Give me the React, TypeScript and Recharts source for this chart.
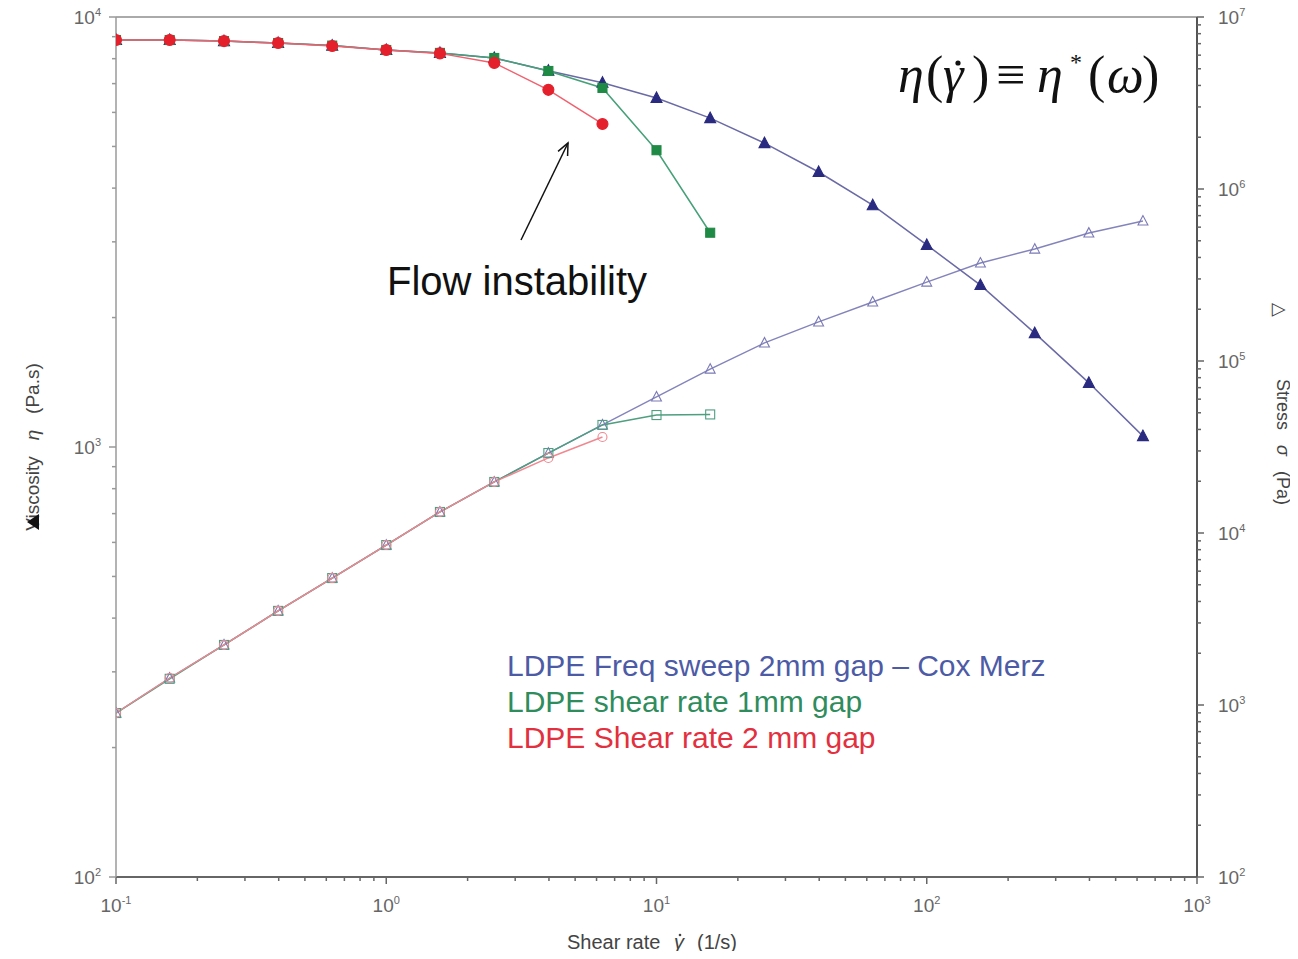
import { LineChart, Line, XAxis, YAxis, ReferenceLine } from 'recharts'

// shear rate (1/s), shared by all series
const shearRate = [0.1, 0.158, 0.251, 0.398, 0.631, 1, 1.58, 2.51, 3.98, 6.31, 10, 15.8, 25.1, 39.8, 63.1, 100, 158, 251, 398, 631]

// viscosity eta (Pa.s), left axis
const freqSweepVisc = [8840, 8840, 8790, 8700, 8580, 8380, 8250, 8030, 7500, 7030, 6480, 5820, 5090, 4360, 3650, 2950, 2380, 1840, 1410, 1060]
const gap1Visc = [8840, 8840, 8790, 8700, 8580, 8380, 8250, 8030, 7490, 6840, 4900, 3150]
const gap2Visc = [8840, 8840, 8790, 8700, 8560, 8380, 8230, 7820, 6770, 5640]

// stress sigma (Pa), right axis
const freqSweepStress = [898, 1435, 2234, 3524, 5470, 8510, 13250, 19800, 29170, 42480, 61800, 89800, 127400, 168700, 220300, 287700, 371500, 447700, 554700, 651700]
const gap1Stress = [898, 1420, 2234, 3524, 5470, 8510, 13250, 19800, 29170, 42480, 48500, 48900]
const gap2Stress = [898, 1435, 2234, 3524, 5470, 8510, 13250, 19800, 27300, 36150]

const legendLabels = ['LDPE Freq sweep 2mm gap \u2013 Cox Merz', 'LDPE shear rate 1mm gap', 'LDPE Shear rate 2 mm gap']
const legendColors = ['#4d5ba6', '#2f8c5c', '#e3303e']

// log ticks: decades plus 2..9 minors
function logTicks(lo: number, hi: number) {
  const out: number[] = []
  for (let e = lo; e <= hi; e++) {
    out.push(Math.pow(10, e))
    if (e < hi) for (let m = 2; m <= 9; m++) out.push(m * Math.pow(10, e))
  }
  return out
}
const xTicks = logTicks(-1, 3)
const leftTicks = logTicks(2, 4)
const rightTicks = logTicks(2, 7)

const toPoints = (ys: number[]) => ys.map((y, i) => ({ x: shearRate[i], y }))

const FONT = '"Liberation Sans", Arial, sans-serif'
const SERIF = '"Liberation Serif", "Times New Roman", serif'

function Pow({ x, y, exp, anchor }: { x: number; y: number; exp: number; anchor: string }) {
  return (
    <text x={x} y={y} textAnchor={anchor} fontFamily={FONT} fontSize={19} fill="#666">
      10<tspan fontSize={11} dy={-8}>{exp}</tspan>
    </text>
  )
}

function LogTick(props: any) {
  const { x, y, payload, side } = props
  const v = payload.value
  const lg = Math.log10(v)
  const exp = Math.round(lg)
  const major = Math.abs(lg - exp) < 1e-6
  const len = major ? 7 : 4
  if (side === 'bottom') {
    return (
      <g>
        <line x1={x} x2={x} y1={y} y2={y + len} stroke="#666" strokeWidth={1.5} />
        {major && <Pow x={x} y={y + 35} exp={exp} anchor="middle" />}
      </g>
    )
  }
  if (side === 'left') {
    return (
      <g>
        <line x1={x - len} x2={x} y1={y} y2={y} stroke="#999" strokeWidth={1.5} />
        {major && <Pow x={x - 15} y={y + 7} exp={exp} anchor="end" />}
      </g>
    )
  }
  return (
    <g>
      <line x1={x} x2={x + len} y1={y} y2={y} stroke="#666" strokeWidth={1.5} />
      {major && <Pow x={x + 21} y={y + 7} exp={exp} anchor="start" />}
    </g>
  )
}

function triangleDot(fill: string, stroke: string, s: number) {
  return (p: any) => {
    const { cx, cy, index } = p
    if (cx == null || cy == null) return <g key={index} />
    const pts = `${cx},${cy - s * 0.6} ${cx - s * 0.55},${cy + s * 0.45} ${cx + s * 0.55},${cy + s * 0.45}`
    return <polygon key={index} points={pts} fill={fill} stroke={stroke} strokeWidth={1.1} />
  }
}

function squareDot(fill: string, stroke: string, s: number) {
  return (p: any) => {
    const { cx, cy, index } = p
    if (cx == null || cy == null) return <g key={index} />
    return <rect key={index} x={cx - s / 2} y={cy - s / 2} width={s} height={s} fill={fill} stroke={stroke} strokeWidth={1.1} />
  }
}

function circleDot(fill: string, stroke: string, r: number) {
  return (p: any) => {
    const { cx, cy, index } = p
    if (cx == null || cy == null) return <g key={index} />
    return <circle key={index} cx={cx} cy={cy} r={r} fill={fill} stroke={stroke} strokeWidth={1.1} />
  }
}

// annotations, in page pixels (wrapper is pulled to the page corner)
function Overlay() {
  const tail = { x: 521, y: 240 }
  const tip = { x: 568, y: 143 }
  const ang = Math.atan2(tip.y - tail.y, tip.x - tail.x)
  const head = (d: number) => ({ x: tip.x - 13 * Math.cos(ang + d), y: tip.y - 13 * Math.sin(ang + d) })
  const h1 = head(0.42)
  const h2 = head(-0.42)
  const pre = { whiteSpace: 'pre' } as const
  const fy = 92
  return (
    <svg width={1298} height={959} style={{ position: 'absolute', left: 0, top: 0, pointerEvents: 'none' }}>
      {/* eta(gamma-dot) = eta*(omega) */}
      <g fontFamily={SERIF} fontSize={52} fill="#111">
        <text x={898} y={fy} fontStyle="italic">η</text>
        <text x={926} y={fy}>(</text>
        <text x={943} y={fy} fontStyle="italic">γ</text>
        <text x={972} y={fy}>)</text>
        <text x={996} y={fy}>≡</text>
        <text x={1037} y={fy} fontStyle="italic">η</text>
        <text x={1070} y={70} fontSize={24}>*</text>
        <text x={1088} y={fy}>(</text>
        <text x={1107} y={fy} fontStyle="italic">ω</text>
        <text x={1142} y={fy}>)</text>
      </g>
      <circle cx={958} cy={63} r={2.6} fill="#111" />

      <text x={387} y={295} fontFamily={FONT} fontSize={40} fill="#111">Flow instability</text>
      <line x1={tail.x} y1={tail.y} x2={tip.x} y2={tip.y} stroke="#111" strokeWidth={1.5} />
      <polyline points={`${h1.x},${h1.y} ${tip.x},${tip.y} ${h2.x},${h2.y}`} fill="none" stroke="#111" strokeWidth={1.5} />

      {legendLabels.map((t, i) => (
        <text key={t} x={507} y={676 + i * 36} fontFamily={FONT} fontSize={30} fill={legendColors[i]}>{t}</text>
      ))}

      <g fontFamily={FONT} fontSize={20} fill="#444">
        <text x={567} y={949}>Shear rate</text>
        <text x={674} y={949} fontStyle="italic">γ</text>
        <text x={697} y={949}>(1/s)</text>
      </g>
      <circle cx={680} cy={935} r={1.3} fill="#444" />

      <g transform="translate(39,447) rotate(-90)">
        <text x={0} y={0} textAnchor="middle" fontFamily={FONT} fontSize={19} fill="#444" style={pre}>
          {'Viscosity   '}<tspan fontStyle="italic">η</tspan>{'   (Pa.s)'}
        </text>
      </g>
      <polygon points="27,522 39,514 39,530" fill="#111" />

      <g transform="translate(1277,442) rotate(90)">
        <text x={0} y={0} textAnchor="middle" fontFamily={FONT} fontSize={18} fill="#444" style={pre}>
          {'Stress   '}<tspan fontStyle="italic">σ</tspan>{'   (Pa)'}
        </text>
      </g>
      <g transform="translate(1274,310) rotate(90)">
        <text x={0} y={0} textAnchor="middle" fontFamily={FONT} fontSize={18} fill="#444">△</text>
      </g>
    </svg>
  )
}

export default function App() {
  return (
    <div style={{ position: 'relative', width: 1290, height: 951, marginLeft: -8, marginTop: -8, background: '#fff' }}>
      <LineChart width={1290} height={951} margin={{ top: 17, right: 13, left: 36, bottom: 24 }}>
        <XAxis
          dataKey="x"
          type="number"
          scale="log"
          domain={[0.1, 1000]}
          ticks={xTicks}
          interval={0}
          height={50}
          tickSize={0}
          tickMargin={0}
          tickLine={false}
          axisLine={{ stroke: '#666', strokeWidth: 2 }}
          tick={(p: any) => <LogTick {...p} side="bottom" />}
          allowDataOverflow
        />
        <YAxis
          yAxisId="left"
          type="number"
          scale="log"
          domain={[100, 10000]}
          ticks={leftTicks}
          interval={0}
          width={80}
          tickSize={0}
          tickMargin={0}
          tickLine={false}
          axisLine={{ stroke: '#9a9a9a', strokeWidth: 1.5 }}
          tick={(p: any) => <LogTick {...p} side="left" />}
          allowDataOverflow
        />
        <YAxis
          yAxisId="right"
          orientation="right"
          type="number"
          scale="log"
          domain={[100, 10000000]}
          ticks={rightTicks}
          interval={0}
          width={80}
          tickSize={0}
          tickMargin={0}
          tickLine={false}
          axisLine={{ stroke: '#555', strokeWidth: 2 }}
          tick={(p: any) => <LogTick {...p} side="right" />}
          allowDataOverflow
        />
        <ReferenceLine yAxisId="left" y={10000} stroke="#aaa" strokeWidth={2} />

        <Line yAxisId="right" data={toPoints(freqSweepStress)} dataKey="y" stroke="#8484bc" strokeWidth={1.4}
          dot={triangleDot('none', '#7a7ab6', 9)} isAnimationActive={false} />
        <Line yAxisId="right" data={toPoints(gap1Stress)} dataKey="y" stroke="#4e9e80" strokeWidth={1.4}
          dot={squareDot('none', '#4e9e80', 9)} isAnimationActive={false} />
        <Line yAxisId="right" data={toPoints(gap2Stress)} dataKey="y" stroke="#f08890" strokeWidth={1.4}
          dot={circleDot('none', '#f08890', 4.5)} isAnimationActive={false} />

        <Line yAxisId="left" data={toPoints(freqSweepVisc)} dataKey="y" stroke="#6a6aa6" strokeWidth={1.5}
          dot={triangleDot('#2a2a80', '#2a2a80', 10)} isAnimationActive={false} />
        <Line yAxisId="left" data={toPoints(gap1Visc)} dataKey="y" stroke="#46a078" strokeWidth={1.5}
          dot={squareDot('#1f8a45', '#1f8a45', 9)} isAnimationActive={false} />
        <Line yAxisId="left" data={toPoints(gap2Visc)} dataKey="y" stroke="#f0606e" strokeWidth={1.5}
          dot={circleDot('#e4202c', '#e4202c', 5.5)} isAnimationActive={false} />
      </LineChart>
      <Overlay />
    </div>
  )
}
